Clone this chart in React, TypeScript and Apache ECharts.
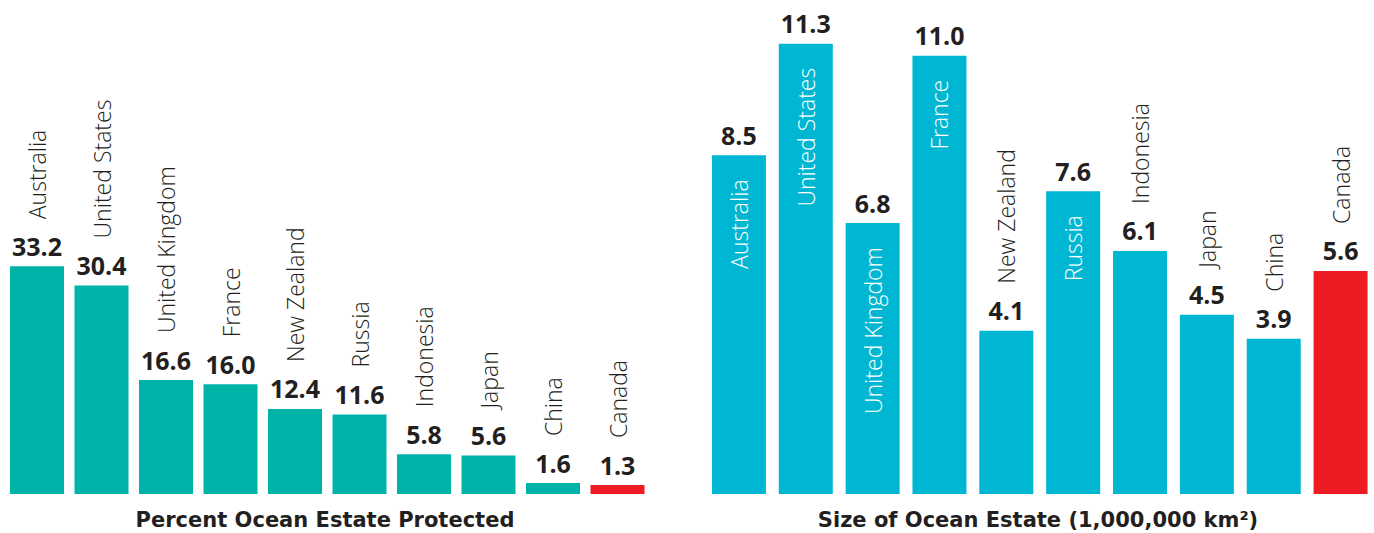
import React, { useEffect, useRef } from "react";
import * as echarts from "echarts";

const categories = [
  "Australia",
  "United States",
  "United Kingdom",
  "France",
  "New Zealand",
  "Russia",
  "Indonesia",
  "Japan",
  "China",
  "Canada",
];
const percentProtected = [33.2, 30.4, 16.6, 16.0, 12.4, 11.6, 5.8, 5.6, 1.6, 1.3];
const estateSize = [8.5, 11.3, 6.8, 11.0, 4.1, 7.6, 6.1, 4.5, 3.9, 5.6];
const highlighted = "Canada";
const leftTitle = "Percent Ocean Estate Protected";
const rightTitle = "Size of Ocean Estate (1,000,000 km²)";
const insideThreshold = 6.5;

const TEAL = "#00B3A9";
const CYAN = "#00B7D3";
const RED = "#ED1C24";
const DARK = "#231F20";
const FONT = "'Open Sans', 'Noto Sans', sans-serif";
const TITLE_FONT = "'DejaVu Sans', 'Open Sans', sans-serif";

export default function App() {
  const ref = useRef<HTMLDivElement>(null);

  useEffect(() => {
    if (!ref.current) return;
    const chart = echarts.init(ref.current, undefined, { renderer: "svg" });

    const valueLabel = {
      show: true,
      position: "top" as const,
      distance: 8,
      fontFamily: FONT,
      fontWeight: "bold" as const,
      fontSize: 25,
      color: DARK,
      formatter: (p: any) => Number(p.value).toFixed(1),
    };

    const nameAbove = {
      show: true,
      position: "top" as const,
      distance: 47,
      rotate: 90,
      align: "left" as const,
      verticalAlign: "middle" as const,
      fontFamily: FONT,
      fontWeight: 300 as any,
      fontSize: 23,
      color: DARK,
      formatter: "{b}",
    };

    const nameInside = {
      show: true,
      position: "insideTop" as const,
      distance: 24,
      rotate: 90,
      align: "right" as const,
      verticalAlign: "middle" as const,
      fontFamily: FONT,
      fontWeight: 300 as any,
      fontSize: 23,
      color: "#FFFFFF",
      formatter: "{b}",
    };

    const leftData = percentProtected.map((v, i) => ({
      value: v,
      itemStyle: { color: categories[i] === highlighted ? RED : TEAL },
    }));
    const rightData = estateSize.map((v, i) => ({
      value: v,
      itemStyle: { color: categories[i] === highlighted ? RED : CYAN },
    }));

    const rightNames = estateSize.map((v) => ({
      value: v,
      itemStyle: { color: "rgba(0,0,0,0)" },
      label: v > insideThreshold ? nameInside : nameAbove,
    }));

    chart.setOption({
      animation: false,
      grid: [
        { left: 4.75, top: 0, width: 645, height: 494 },
        { left: 705.5, top: 0, width: 671, height: 494 },
      ],
      xAxis: [
        { type: "category", gridIndex: 0, data: categories, show: false },
        { type: "category", gridIndex: 1, data: categories, show: false },
      ],
      yAxis: [
        { type: "value", gridIndex: 0, min: 0, max: 72, show: false },
        { type: "value", gridIndex: 1, min: 0, max: 12.4, show: false },
      ],
      series: [
        {
          type: "bar",
          xAxisIndex: 0,
          yAxisIndex: 0,
          barWidth: 54,
          barGap: "-100%",
          data: leftData,
          label: valueLabel,
        },
        {
          type: "bar",
          xAxisIndex: 0,
          yAxisIndex: 0,
          barWidth: 54,
          barGap: "-100%",
          silent: true,
          data: percentProtected.map((v) => ({
            value: v,
            itemStyle: { color: "rgba(0,0,0,0)" },
          })),
          label: nameAbove,
        },
        {
          type: "bar",
          xAxisIndex: 1,
          yAxisIndex: 1,
          barWidth: 54,
          barGap: "-100%",
          data: rightData,
          label: valueLabel,
        },
        {
          type: "bar",
          xAxisIndex: 1,
          yAxisIndex: 1,
          barWidth: 54,
          barGap: "-100%",
          silent: true,
          data: rightNames,
        },
      ],
      graphic: [
        {
          type: "text",
          x: 325,
          y: 520,
          style: {
            text: leftTitle,
            fill: DARK,
            fontFamily: TITLE_FONT,
            fontWeight: "bold",
            fontSize: 21,
            align: "center",
            verticalAlign: "middle",
          },
        },
        {
          type: "text",
          x: 1038,
          y: 520,
          style: {
            text: rightTitle,
            fill: DARK,
            fontFamily: TITLE_FONT,
            fontWeight: "bold",
            fontSize: 21,
            align: "center",
            verticalAlign: "middle",
          },
        },
      ],
    });

    return () => chart.dispose();
  }, []);

  return (
    <div
      ref={ref}
      style={{ position: "absolute", left: 0, top: 0, width: 1374, height: 533 }}
    />
  );
}
